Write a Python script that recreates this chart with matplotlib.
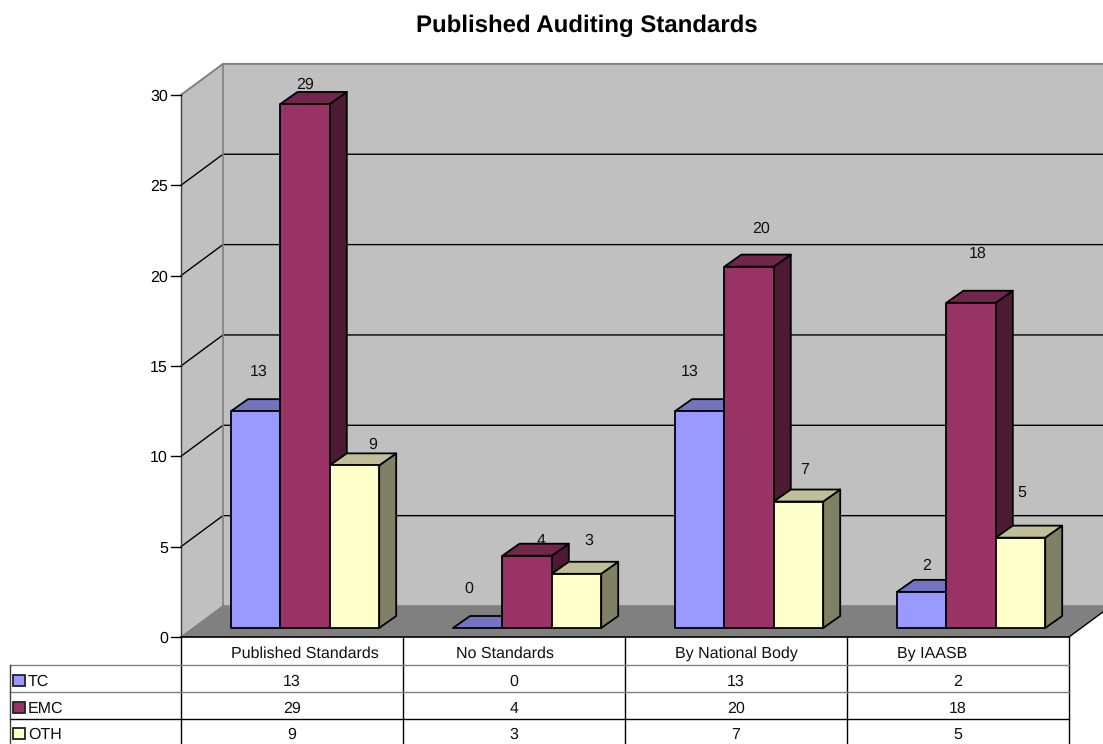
import matplotlib
matplotlib.use("Agg")
import matplotlib.pyplot as plt
from matplotlib.patches import Polygon

plt.rcParams['font.family'] = ['Liberation Sans', 'DejaVu Sans']
plt.rcParams['text.hinting'] = 'no_hinting'
plt.rcParams['text.hinting_factor'] = 1

TITLE = "Published Auditing Standards"
categories = ["Published Standards", "No Standards", "By National Body", "By IAASB"]
series_names = ["TC", "EMC", "OTH"]
tc_values = [13, 0, 13, 2]
emc_values = [29, 4, 20, 18]
oth_values = [9, 3, 7, 5]
# The reference draws the TC columns for the value 13 only as high as 12.
tc_drawn = [12, 0, 12, 2]
y_ticks = [0, 5, 10, 15, 20, 25, 30]

face_colors = ["#9999FF", "#993366", "#FFFFCC"]
top_colors = ["#7373BF", "#73264D", "#BFBF99"]
side_colors = ["#4D4D80", "#4D1933", "#808066"]

W, H = 1103, 744
PX_X, PX_Y = 222.0, 18.07      # pixels per category / per value unit
ORG_X, ORG_Y = 181.0, 637.0    # pixel position of the chart origin
FS = 11.7

fig = plt.figure(figsize=(W / 100, H / 100), dpi=100)
ax = fig.add_axes([0, 0, 1, 1])
ax.set_xlim(-ORG_X / PX_X, (W - ORG_X) / PX_X)
ax.set_ylim((ORG_Y - H) / PX_Y, ORG_Y / PX_Y)
ax.axis("off")

DX, DY = 42 / PX_X, 31 / PX_Y                # depth of the chart box
BX, BY = 17 / PX_X, 12 / PX_Y                # depth of a column
FX, FY = 12.5 / PX_X, 9 / PX_Y               # column front offset in the box
BAR_W = 49.4 / PX_X
GAP = 37.5 / PX_X
NC = len(categories)
TOP = y_ticks[-1]
GRAY, DARK = "#808080", "#404040"

def px(n):
    return n / PX_X

def py(n):
    return n / PX_Y

# walls and floor
ax.add_patch(Polygon([(0, 0), (0, TOP), (DX, TOP + DY), (DX, DY)], fc="#C0C0C0", ec="none", zorder=1))
ax.add_patch(Polygon([(DX, DY), (DX, TOP + DY), (NC + DX, TOP + DY), (NC + DX, DY)], fc="#C0C0C0", ec="none", zorder=1))
ax.add_patch(Polygon([(0, 0), (DX, DY), (NC + DX, DY), (NC, 0)], fc="#808080", ec="none", zorder=1))

for t in y_ticks[1:-1]:
    ax.plot([0, DX, NC + DX], [t, t + DY, t + DY], color="black", lw=1, zorder=2)
ax.plot([0, DX, NC + DX], [TOP, TOP + DY, TOP + DY], color=GRAY, lw=1.4, zorder=2)
ax.plot([DX, DX], [DY, TOP + DY], color=GRAY, lw=1.2, zorder=2)
ax.plot([DX, NC + DX], [DY, DY], color=GRAY, lw=1.2, zorder=2)
ax.plot([0, DX], [0, DY], color=GRAY, lw=1, zorder=2)
ax.plot([0, 0], [0, TOP], color=DARK, lw=1, zorder=2)
ax.plot([NC, NC + DX], [0, DY], color="black", lw=1, zorder=2)

# y axis
for t in y_ticks:
    ax.plot([-px(10), 0], [t, t], color="black", lw=1, zorder=2)
    ax.text(-px(13), t, str(t), ha="right", va="center_baseline", fontsize=FS, color="black")

# columns
z = 3
for c in range(NC):
    for s, vals in enumerate([tc_drawn, emc_values, oth_values]):
        v = vals[c]
        x0 = c + FX + GAP + s * BAR_W
        x1 = x0 + BAR_W
        y0 = FY
        y1 = FY + v
        edge = dict(ec="black", lw=1.3, joinstyle="round", zorder=z)
        ax.add_patch(Polygon([(x1, y0), (x1 + BX, y0 + BY), (x1 + BX, y1 + BY), (x1, y1)], fc=side_colors[s], **edge))
        ax.add_patch(Polygon([(x0, y1), (x1, y1), (x1 + BX, y1 + BY), (x0 + BX, y1 + BY)], fc=top_colors[s], **edge))
        if v > 0:
            ax.add_patch(Polygon([(x0, y0), (x1, y0), (x1, y1), (x0, y1)], fc=face_colors[s], **edge))
        z += 1

ax.plot([0, NC], [0, 0], color="black", lw=1.2, zorder=z)

# data labels (offsets are pixels from the column's front top centre)
label_offsets = [
    [(3, 21), (0, 19), (18, 21)],
    [(-9, 39), (14, 15), (12, 33)],
    [(-10, 21), (12, 38), (6, 32)],
    [(5, 26), (7, 49), (1, 45)],
]
for c in range(NC):
    for s, vals in enumerate([tc_values, emc_values, oth_values]):
        x0 = c + FX + GAP + (s + 0.5) * BAR_W
        ax.annotate(str(vals[c]), xy=(x0, FY + vals[c]), xytext=label_offsets[c][s],
                    textcoords="offset pixels", ha="center", va="center",
                    fontsize=FS, color="#111111", zorder=50)

# data table
rows_y = [0, -py(28), -py(55), -py(82)]
row_centers = [-py(15), -py(43), -py(70), -py(96.5)]
bottom = (ORG_Y - H) / PX_Y
left = -px(171)
for i in range(NC + 1):
    ax.plot([i, i], [0, bottom], color="black", lw=1, zorder=60)
row_colors = [GRAY, GRAY, "black"]
for y, col in zip(rows_y[1:], row_colors):
    ax.plot([left, NC], [y, y], color=col, lw=1, zorder=60)
ax.plot([left, left], [rows_y[1], bottom], color=DARK, lw=1, zorder=60)

cat_shift = [13, -9, 0, -26]
for c, name in enumerate(categories):
    ax.text(c + 0.5 + px(cat_shift[c]), row_centers[0], name, ha="center", va="center_baseline", fontsize=FS, color="#111111")
for r, (name, vals) in enumerate(zip(series_names, [tc_values, emc_values, oth_values])):
    yc = row_centers[r + 1]
    ax.add_patch(Polygon([(-px(168), yc + py(5.5)), (-px(156.5), yc + py(5.5)),
                          (-px(156.5), yc - py(5.5)), (-px(168), yc - py(5.5))],
                         fc=face_colors[r], ec="#222222", lw=1.3, zorder=60))
    ax.text(-px(153), yc, name, ha="left", va="center_baseline", fontsize=FS, color="#111111")
    for c in range(NC):
        ax.text(c + 0.5, yc, str(vals[c]), ha="center", va="center_baseline", fontsize=FS, color="#111111")

ax.text((587 - ORG_X) / PX_X, (ORG_Y - 23) / PX_Y, TITLE, ha="center", va="center_baseline",
        fontsize=17.1, fontweight="bold", color="black")

fig.savefig("out.png", dpi=100, facecolor="white")
